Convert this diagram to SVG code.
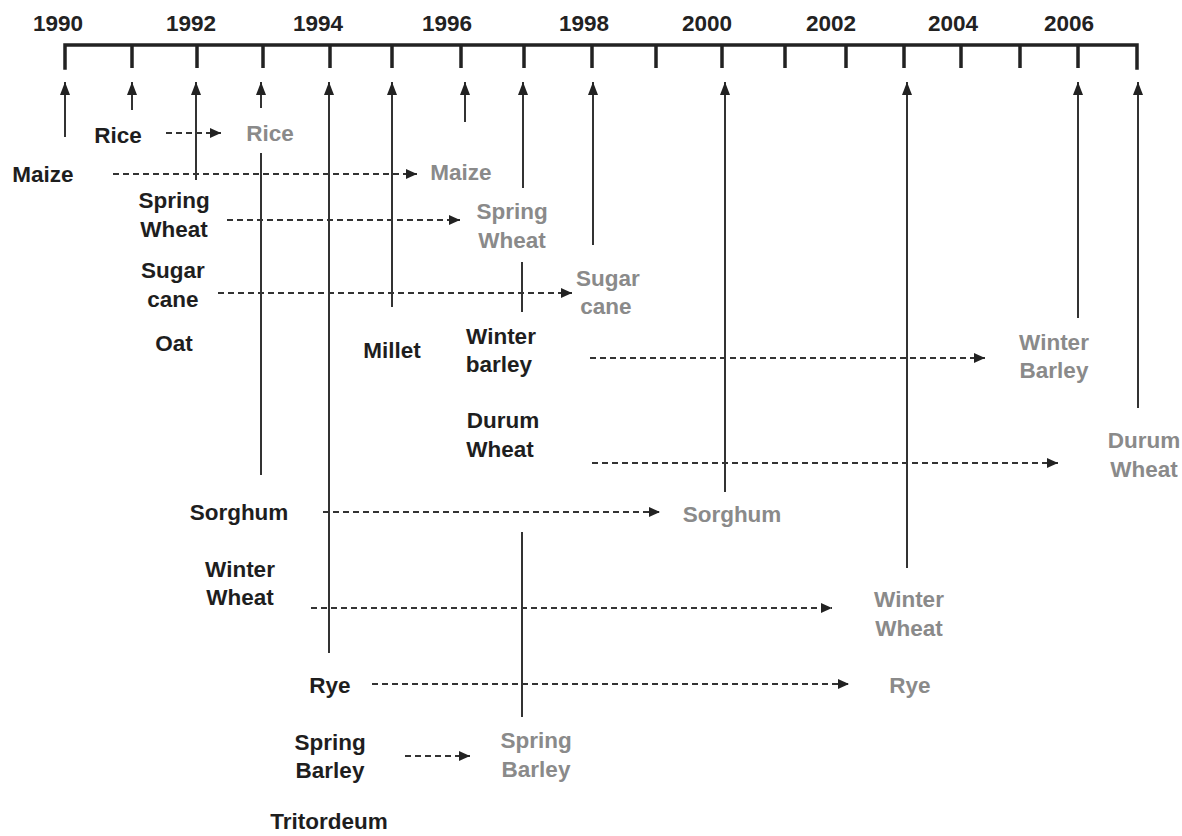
<svg xmlns="http://www.w3.org/2000/svg" width="1182" height="836" viewBox="0 0 1182 836">
<style>
text{font-family:"Liberation Sans",Arial,sans-serif;font-weight:bold;font-size:22.5px;text-anchor:middle}
.yr{fill:#222}
.src{fill:#1e1e1e}
.dst{fill:#8a8a8a}
.axis{stroke:#222;stroke-width:3.5;fill:none;stroke-linecap:square}
.tick{stroke:#222;stroke-width:3.5}
.up{stroke:#333;stroke-width:2;fill:none}
.seg{stroke:#333;stroke-width:2;fill:none}
.dash{stroke:#333;stroke-width:2;stroke-dasharray:6 4;fill:none}
</style>
<defs>
<marker id="ahUp" viewBox="0 0 13 10" refX="13" refY="5" markerWidth="13" markerHeight="10" orient="auto" markerUnits="userSpaceOnUse"><path d="M0,0 L13,5 L0,10 z" fill="#222"/></marker>
<marker id="ahR" viewBox="0 0 11 10" refX="11" refY="5" markerWidth="11" markerHeight="10" orient="auto" markerUnits="userSpaceOnUse"><path d="M0,0 L11,5 L0,10 z" fill="#222"/></marker>
</defs>
<rect width="1182" height="836" fill="#fff"/>
<g id="timeline">
<path class="axis" d="M65,68 L65,45 L1137,45 L1137,68"/>
<g class="tick">
<line x1="132" y1="45" x2="132" y2="68"/><line x1="197" y1="45" x2="197" y2="68"/><line x1="263" y1="45" x2="263" y2="68"/><line x1="330" y1="45" x2="330" y2="68"/><line x1="392" y1="45" x2="392" y2="68"/><line x1="461" y1="45" x2="461" y2="68"/><line x1="524" y1="45" x2="524" y2="68"/><line x1="592" y1="45" x2="592" y2="68"/><line x1="656" y1="45" x2="656" y2="68"/><line x1="722" y1="45" x2="722" y2="68"/><line x1="785" y1="45" x2="785" y2="68"/><line x1="846" y1="45" x2="846" y2="68"/><line x1="904" y1="45" x2="904" y2="68"/><line x1="961" y1="45" x2="961" y2="68"/><line x1="1020" y1="45" x2="1020" y2="68"/><line x1="1078" y1="45" x2="1078" y2="68"/>
</g>
<text class="yr" x="58" y="31">1990</text>
<text class="yr" x="191" y="31">1992</text>
<text class="yr" x="318" y="31">1994</text>
<text class="yr" x="447" y="31">1996</text>
<text class="yr" x="584" y="31">1998</text>
<text class="yr" x="707" y="31">2000</text>
<text class="yr" x="831" y="31">2002</text>
<text class="yr" x="953" y="31">2004</text>
<text class="yr" x="1069" y="31">2006</text>
</g>
<g id="connectors">
<line class="up" x1="65" y1="137" x2="65" y2="82" marker-end="url(#ahUp)"/>
<line class="up" x1="132" y1="110" x2="132" y2="82" marker-end="url(#ahUp)"/>
<line class="up" x1="196" y1="180" x2="196" y2="82" marker-end="url(#ahUp)"/>
<line class="up" x1="261" y1="108" x2="261" y2="82" marker-end="url(#ahUp)"/>
<line class="up" x1="329" y1="653" x2="329" y2="82" marker-end="url(#ahUp)"/>
<line class="up" x1="392" y1="307" x2="392" y2="82" marker-end="url(#ahUp)"/>
<line class="up" x1="465" y1="122" x2="465" y2="82" marker-end="url(#ahUp)"/>
<line class="up" x1="523" y1="188" x2="523" y2="82" marker-end="url(#ahUp)"/>
<line class="up" x1="593" y1="245" x2="593" y2="82" marker-end="url(#ahUp)"/>
<line class="up" x1="725" y1="492" x2="725" y2="82" marker-end="url(#ahUp)"/>
<line class="up" x1="907" y1="568" x2="907" y2="82" marker-end="url(#ahUp)"/>
<line class="up" x1="1078" y1="318" x2="1078" y2="82" marker-end="url(#ahUp)"/>
<line class="up" x1="1138" y1="408" x2="1138" y2="82" marker-end="url(#ahUp)"/>
<line class="seg" x1="261" y1="153" x2="261" y2="475"/>
<line class="seg" x1="522" y1="262" x2="522" y2="312"/>
<line class="seg" x1="522" y1="532" x2="522" y2="717"/>
<line class="dash" x1="166" y1="133" x2="221" y2="133" marker-end="url(#ahR)"/>
<line class="dash" x1="113" y1="174" x2="417" y2="174" marker-end="url(#ahR)"/>
<line class="dash" x1="227" y1="220" x2="460" y2="220" marker-end="url(#ahR)"/>
<line class="dash" x1="218" y1="293" x2="572" y2="293" marker-end="url(#ahR)"/>
<line class="dash" x1="590" y1="358" x2="985" y2="358" marker-end="url(#ahR)"/>
<line class="dash" x1="592" y1="463" x2="1058" y2="463" marker-end="url(#ahR)"/>
<line class="dash" x1="323" y1="512" x2="660" y2="512" marker-end="url(#ahR)"/>
<line class="dash" x1="311" y1="608" x2="832" y2="608" marker-end="url(#ahR)"/>
<line class="dash" x1="372" y1="684" x2="849" y2="684" marker-end="url(#ahR)"/>
<line class="dash" x1="405" y1="756" x2="470" y2="756" marker-end="url(#ahR)"/>
</g>
<g id="maize-src"><text class="src" x="43" y="182">Maize</text></g>
<g id="rice-src"><text class="src" x="118" y="143">Rice</text></g>
<g id="springwheat-src"><text class="src" x="174" y="208">Spring</text><text class="src" x="174" y="237">Wheat</text></g>
<g id="sugarcane-src"><text class="src" x="173" y="278">Sugar</text><text class="src" x="173" y="307">cane</text></g>
<g id="oat"><text class="src" x="174" y="351">Oat</text></g>
<g id="millet"><text class="src" x="392" y="358">Millet</text></g>
<g id="winterbarley-src"><text class="src" x="501" y="344">Winter</text><text class="src" x="499" y="372">barley</text></g>
<g id="durumwheat-src"><text class="src" x="503" y="428">Durum</text><text class="src" x="500" y="457">Wheat</text></g>
<g id="sorghum-src"><text class="src" x="239" y="520">Sorghum</text></g>
<g id="winterwheat-src"><text class="src" x="240" y="577">Winter</text><text class="src" x="240" y="605">Wheat</text></g>
<g id="rye-src"><text class="src" x="330" y="693">Rye</text></g>
<g id="springbarley-src"><text class="src" x="330" y="750">Spring</text><text class="src" x="330" y="778">Barley</text></g>
<g id="tritordeum"><text class="src" x="329" y="829">Tritordeum</text></g>
<g id="rice-dst"><text class="dst" x="270" y="141">Rice</text></g>
<g id="maize-dst"><text class="dst" x="461" y="180">Maize</text></g>
<g id="springwheat-dst"><text class="dst" x="512" y="219">Spring</text><text class="dst" x="512" y="248">Wheat</text></g>
<g id="sugarcane-dst"><text class="dst" x="608" y="286">Sugar</text><text class="dst" x="606" y="314">cane</text></g>
<g id="winterbarley-dst"><text class="dst" x="1054" y="350">Winter</text><text class="dst" x="1054" y="378">Barley</text></g>
<g id="durumwheat-dst"><text class="dst" x="1144" y="448">Durum</text><text class="dst" x="1144" y="477">Wheat</text></g>
<g id="sorghum-dst"><text class="dst" x="732" y="522">Sorghum</text></g>
<g id="winterwheat-dst"><text class="dst" x="909" y="607">Winter</text><text class="dst" x="909" y="636">Wheat</text></g>
<g id="rye-dst"><text class="dst" x="910" y="693">Rye</text></g>
<g id="springbarley-dst"><text class="dst" x="536" y="748">Spring</text><text class="dst" x="536" y="777">Barley</text></g>
</svg>
